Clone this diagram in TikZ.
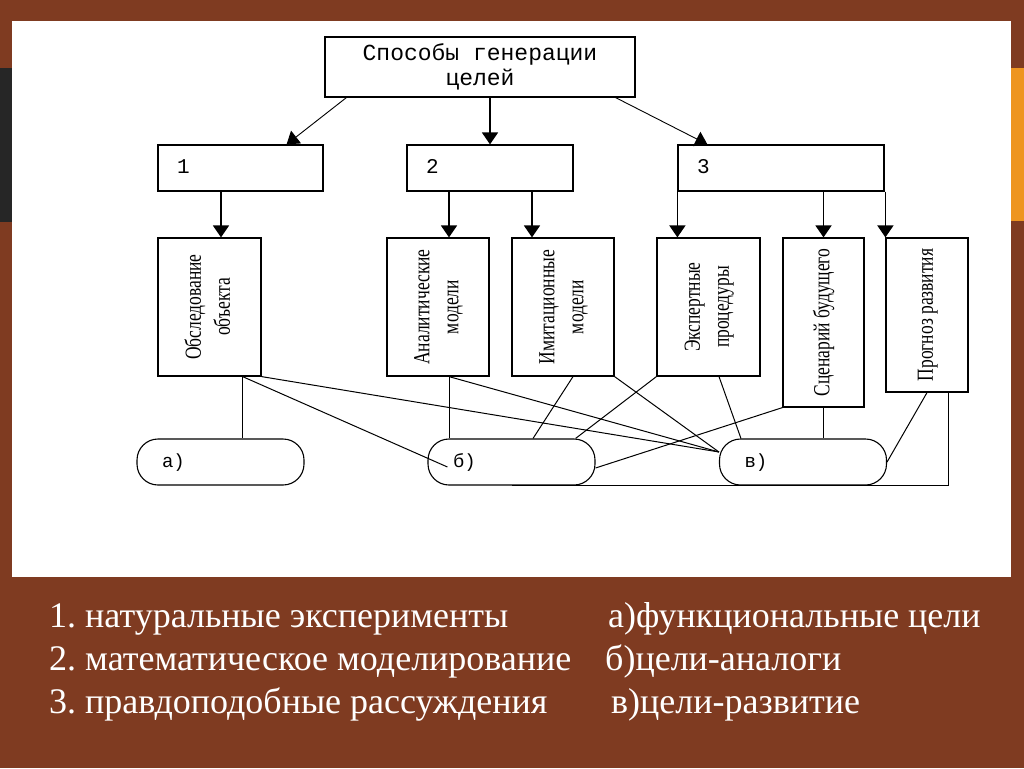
\documentclass[tikz,border=0pt]{standalone}
\usepackage{fontspec}
\usepackage{graphicx}
\setmainfont{Liberation Serif}
\newfontfamily\boxfont{Liberation Mono}
\newfontfamily\narrowfont[FakeStretch=0.76]{Liberation Serif}
\usetikzlibrary{arrows.meta}
\definecolor{slidebrown}{HTML}{7F3B21}
\definecolor{slideorange}{HTML}{EE9520}
\definecolor{slidedark}{HTML}{262626}
\frenchspacing

\begin{document}
\begin{tikzpicture}[x=1pt, y=-1pt,
  box/.style={draw, line width=1.2pt, fill=white, inner sep=0pt},
  numbox/.style={box, minimum height=46pt, inner xsep=19pt, text width=#1, text height=15pt, text depth=4pt, align=left, font=\boxfont\fontsize{21}{24}\selectfont},
  vbox/.style={box, font=\narrowfont\fontsize{23}{29}\selectfont},
  goal/.style={draw, line width=1.1pt, rounded corners=21pt, minimum height=46pt, inner xsep=25pt, inner ysep=0pt, text width=117pt, text height=14pt, text depth=4pt, align=left, font=\boxfont\fontsize{19}{22}\selectfont},
  arr/.style={-{Triangle[length=12pt,width=16pt]}, line width=1.8pt},
  thinarr/.style={-{Triangle[length=12pt,width=16pt]}, line width=0.9pt},
  link/.style={line width=1pt},
  legend/.style={anchor=base west, inner sep=0pt, text=white, font=\fontsize{36}{40}\selectfont}] % slide
\newcommand{\uprot}[1]{\rotatebox{90}{\begin{tabular}{@{}c@{}}#1\end{tabular}}}
\useasboundingbox (0,0) rectangle (1024,768);
\fill[slidebrown] (0,0) rectangle (1024,768);
\fill[slidedark] (0,68) rectangle (12,222);
\fill[slideorange] (1011,68) rectangle (1024,221);
\fill[white] (12,21) rectangle (1011,577);

\node[box, minimum width=310pt, minimum height=60pt, align=center, font=\boxfont\fontsize{23}{25}\selectfont] (gen) at (480,67) {Способы генерации\\целей};

\node[numbox=127pt] (m1) at (240.5,168) {1};
\node[numbox=128pt] (m2) at (490,168) {2};
\node[numbox=168pt] (m3) at (781,168) {3};

\node[vbox, minimum width=103pt, minimum height=138pt] (obsl) at (209.5,307) {\uprot{Обследование\\объекта}};
\node[vbox, minimum width=102pt, minimum height=138pt] (anal) at (438,307) {\uprot{Аналитические\\модели}};
\node[vbox, minimum width=102pt, minimum height=138pt] (imit) at (563,307) {\uprot{Имитационные\\модели}};
\node[vbox, minimum width=103pt, minimum height=138pt] (expt) at (708.5,307) {\uprot{Экспертные\\процедуры}};
\node[vbox, minimum width=81pt, minimum height=169pt] (scen) at (823.5,322.5) {\uprot{Сценарий будущего}};
\node[vbox, minimum width=82pt, minimum height=154pt] (progn) at (927,315) {\uprot{Прогноз развития}};

\node[goal] (ga) at (220.5,462) {а)};
\node[goal] (gb) at (511.5,462) {б)};
\node[goal] (gv) at (803,462) {в)};

% arrows down
\draw[thinarr] ([xshift=22pt]gen.south west) -- ([xshift=-37pt]m1.north east);
\draw[arr] (m2.north |- gen.south) -- (m2.north);
\draw[thinarr] ([xshift=-20pt]gen.south east) -- ([xshift=30pt]m3.north west);

\coordinate (a1) at ([xshift=11.5pt]obsl.north);
\coordinate (a2) at ([xshift=11pt]anal.north);
\coordinate (a3) at ([xshift=-31pt]imit.north);
\draw[arr] (a1 |- m1.south) -- (a1);
\draw[arr] (a2 |- m2.south) -- (a2);
\draw[arr] (a3 |- m2.south) -- (a3);
\draw[arr] (m3.south west) -- (m3.south west |- expt.north);
\draw[arr] (scen.north |- m3.south) -- (scen.north);
\draw[arr] (progn.north west |- m3.south) -- (progn.north west);

% links to goals
\coordinate (obB) at ([xshift=-19pt]obsl.south east);
\coordinate (anB) at ([xshift=11pt]anal.south);
\coordinate (vIn) at ([yshift=10pt]gv.west);
\draw[link] (obB) -- (obB |- ga.north);
\draw[link] (obB) -- ([shift={(20pt,-5pt)}]gb.west);
\draw[link] (obsl.south east) -- (vIn);
\draw[link] (anB) -- (anB |- gb.north);
\draw[link] (anB) -- (vIn);
\draw[link] ([xshift=10pt]imit.south) -- ([xshift=21.5pt]gb.north);
\draw[link] (imit.south east) -- (vIn);
\draw[link] (expt.south west) -- ([xshift=-20pt]gb.north east);
\draw[link] ([xshift=10.5pt]expt.south) -- ([xshift=22pt]gv.north west);
\draw[link] (scen.south) -- (scen.south |- gv.north);
\draw[link] (scen.south west) -- ([yshift=-6pt]gb.east);
\draw[link] (progn.south) -- (gv.east);
\draw[link] ([xshift=21pt]progn.south) |- (gb.south);

\node[legend] (l1) at (49,627) {1. натуральные эксперименты};
\node[legend] (l2) at (49,670) {2. математическое моделирование};
\node[legend] (l3) at (49,713) {3. правдоподобные рассуждения};
\node[legend] (la) at (608,627) {а)функциональные цели};
\node[legend] (lb) at (605,670) {б)цели-аналоги};
\node[legend] (lv) at (611,713) {в)цели-развитие};
\end{tikzpicture}
\end{document}
